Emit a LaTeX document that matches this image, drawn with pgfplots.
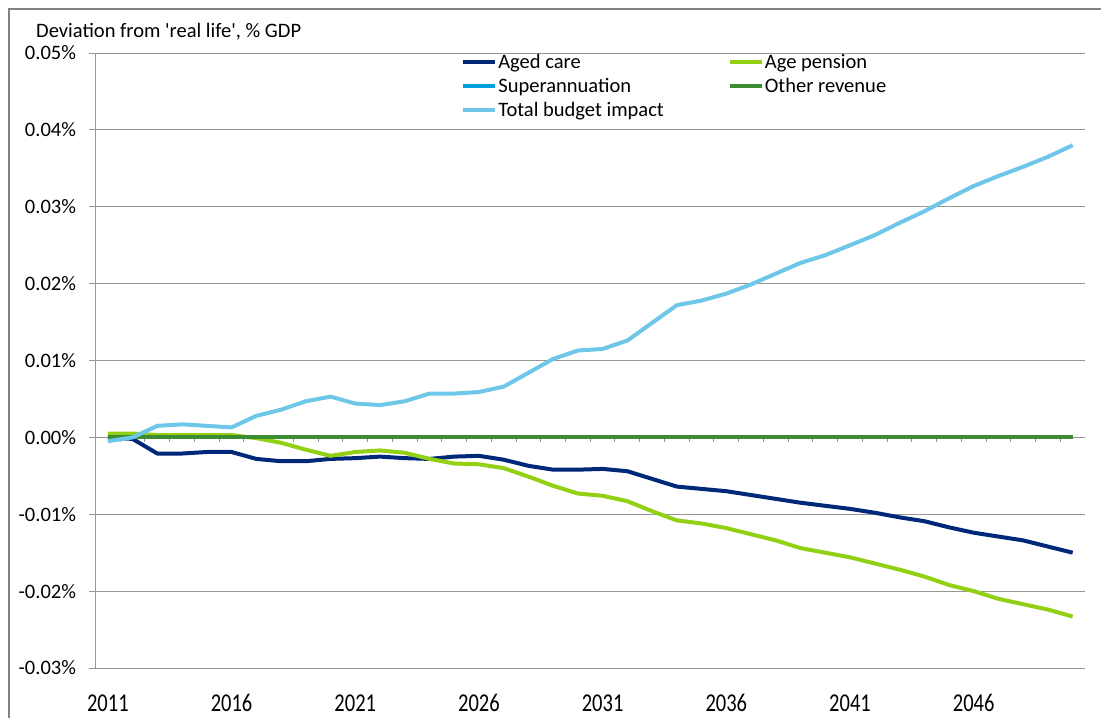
\documentclass[border=0pt]{standalone}
\usepackage{pgfplots}
\pgfplotsset{compat=1.18}
\usepackage{pgfplotstable}
\usepackage{fontspec}
\setmainfont{Carlito}[Ligatures=TeXOff]
\usepackage{graphicx}
\definecolor{agedcare}{RGB}{0,40,120}
\definecolor{agepension}{RGB}{146,208,20}
\definecolor{superann}{RGB}{0,160,224}
\definecolor{otherrev}{RGB}{60,140,50}
\definecolor{totalbud}{RGB}{110,198,232}
\definecolor{gridgray}{RGB}{150,150,150}
\definecolor{framegray}{RGB}{130,130,130}
\newcommand{\xl}[1]{\scalebox{1}[1.25]{#1}}
\newcommand{\fs}{\fontsize{20.6}{24}\selectfont}
\pgfplotstableread{
year aged pension super other total
2011 0.0000 0.0005 0 0 -0.0005
2012 -0.0002 0.0005 0 0 0.0000
2013 -0.0021 0.0003 0 0 0.0015
2014 -0.0021 0.0003 0 0 0.0017
2015 -0.0019 0.0003 0 0 0.0015
2016 -0.0019 0.0003 0 0 0.0013
2017 -0.0028 -0.0001 0 0 0.0028
2018 -0.0031 -0.0007 0 0 0.0036
2019 -0.0031 -0.0016 0 0 0.0047
2020 -0.0028 -0.0024 0 0 0.0053
2021 -0.0027 -0.0019 0 0 0.0044
2022 -0.0025 -0.0017 0 0 0.0042
2023 -0.0027 -0.0020 0 0 0.0047
2024 -0.0028 -0.0028 0 0 0.0057
2025 -0.0025 -0.0034 0 0 0.0057
2026 -0.0024 -0.0035 0 0 0.0059
2027 -0.0029 -0.0040 0 0 0.0066
2028 -0.0037 -0.0051 0 0 0.0084
2029 -0.0042 -0.0063 0 0 0.0102
2030 -0.0042 -0.0073 0 0 0.0113
2031 -0.0041 -0.0076 0 0 0.0115
2032 -0.0044 -0.0083 0 0 0.0126
2033 -0.0054 -0.0096 0 0 0.0149
2034 -0.0064 -0.0108 0 0 0.0172
2035 -0.0067 -0.0112 0 0 0.0178
2036 -0.0070 -0.0118 0 0 0.0187
2037 -0.0075 -0.0126 0 0 0.0199
2038 -0.0080 -0.0134 0 0 0.0213
2039 -0.0085 -0.0144 0 0 0.0227
2040 -0.0089 -0.0150 0 0 0.0237
2041 -0.0093 -0.0156 0 0 0.0250
2042 -0.0098 -0.0164 0 0 0.0263
2043 -0.0104 -0.0172 0 0 0.0279
2044 -0.0109 -0.0181 0 0 0.0294
2045 -0.0117 -0.0192 0 0 0.0311
2046 -0.0124 -0.0200 0 0 0.0327
2047 -0.0129 -0.0210 0 0 0.0340
2048 -0.0134 -0.0217 0 0 0.0352
2049 -0.0142 -0.0224 0 0 0.0365
2050 -0.0150 -0.0233 0 0 0.0380
}\data
\begin{document}
\begin{tikzpicture}[x=1bp,y=1bp]
\path[use as bounding box] (0,0) rectangle (1101,-718);
\draw[framegray, line width=1.5bp] (9,-718) -- (9,-9) -- (1101,-9);
\node[anchor=base west, inner sep=0pt, font=\fs] at (36,-38) {Deviation from 'real life', \% GDP};
\begin{axis}[
  at={(95.5bp,-668bp)}, anchor=south west,
  scale only axis, width=989.5bp, height=615bp,
  xmin=2010.5, xmax=2050.5, ymin=-0.03, ymax=0.05,
  axis lines*=left,
  x axis line style={draw=none},
  y axis line style={-, draw=gridgray, line width=1bp},
  xtick={2011,2016,2021,2026,2031,2036,2041,2046},
  xticklabels={\xl{2011},\xl{2016},\xl{2021},\xl{2026},\xl{2031},\xl{2036},\xl{2041},\xl{2046}},
  x tick style={draw=none},
  xticklabel style={font=\fs, yshift=-16bp},
  scaled y ticks=false,
  ytick={-0.03,-0.02,-0.01,0,0.01,0.02,0.03,0.04,0.05},
  yticklabel={\pgfmathprintnumber[fixed,fixed zerofill,precision=2]{\tick}\%},
  /pgf/number format/assume math mode=true,
  yticklabel style={font=\fs, xshift=-9bp},
  y tick style={draw=gridgray, line width=1bp},
  tick align=outside, major tick length=7bp,
  ymajorgrids, grid style={draw=gridgray, line width=1bp},
  legend columns=2,
  legend cell align=left,
  legend image code/.code={\draw[#1, line width=4bp] (0bp,0bp) -- (32bp,0bp);},
  legend style={draw=none, fill=none, at={(axis description cs:0.3665,1.003)}, anchor=north west,
    font=\fs, nodes={inner sep=1bp}, row sep=6bp,
    /tikz/every even column/.append style={column sep=63bp}},
  every axis plot/.append style={line width=4bp, line join=round},
]
\draw[gridgray, line width=1bp] (axis cs:2010.5,0) -- (axis cs:2050.5,0);
\pgfplotsinvokeforeach{2010.5,2011.5,...,2050.5}{\draw[gridgray, line width=1bp] (axis cs:#1,0) -- ++(0bp,-5bp);}
\addplot[agedcare] table[x=year, y=aged] {\data};
\addlegendentry{Aged care}
\addplot[agepension] table[x=year, y=pension] {\data};
\addlegendentry{Age pension}
\addplot[superann] table[x=year, y=super] {\data};
\addlegendentry{Superannuation}
\addplot[otherrev] table[x=year, y=other] {\data};
\addlegendentry{Other revenue}
\addplot[totalbud] table[x=year, y=total] {\data};
\addlegendentry{Total budget impact}
\end{axis}
\end{tikzpicture}
\end{document}
